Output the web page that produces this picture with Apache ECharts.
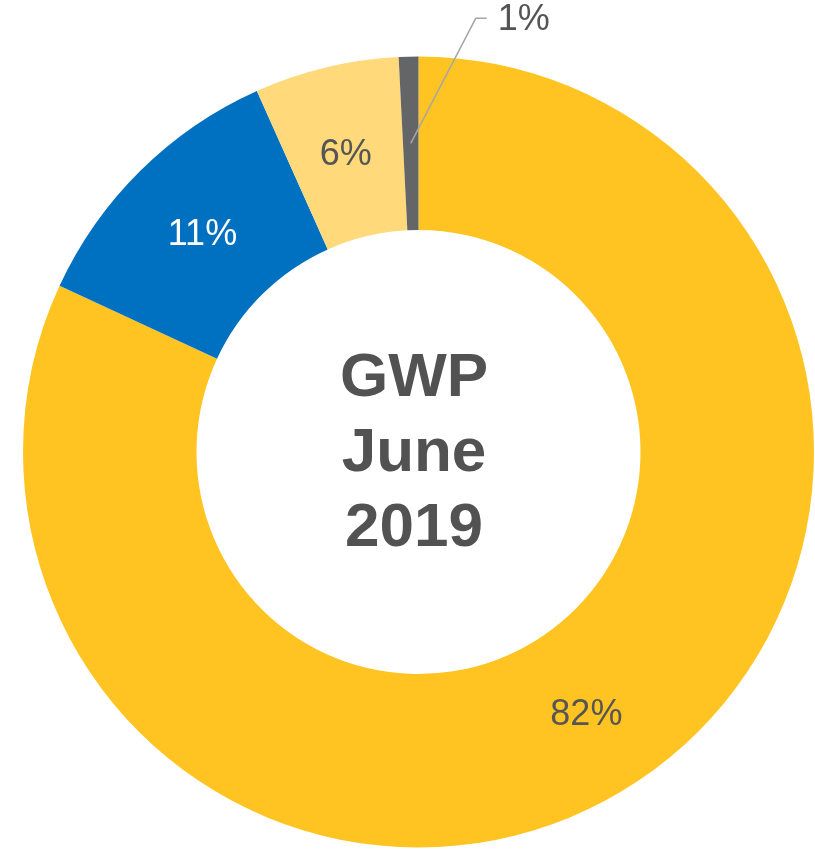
<!DOCTYPE html>
<html>
<head>
<meta charset="utf-8">
<script src="https://cdn.jsdelivr.net/npm/echarts@6/dist/echarts.min.js"></script>
<style>
  html, body { margin: 0; padding: 0; background: #fff; }
  #chart { width: 815px; height: 850px; }
</style>
</head>
<body>
<div id="chart"></div>
<script>
// slice shares, labels show rounded percent
const names = ['A', 'B', 'C', 'D'];
const values = [81.9, 11.4, 5.9, 0.8];
const colors = ['#FFC422', '#0070C0', '#FFD97A', '#646567'];
const centerText = 'GWP\nJune\n2019';

const CX = 418.5;
const CY = 452;
const R0 = 222;
const R1 = 395.5;
const MID_R = (R0 + R1) / 2;
const FONT = 'Arial, "Liberation Sans", sans-serif';

const chart = echarts.init(document.getElementById('chart'), null, { renderer: 'canvas' });

// leader line for the small slice starts in the middle of the ring
const total = values.reduce((a, b) => a + b, 0);
const before = values.slice(0, 3).reduce((a, b) => a + b, 0);
const midAngle = ((before + values[3] / 2) / total) * Math.PI * 2; // clockwise from 12 o'clock
const sx = CX + Math.sin(midAngle) * MID_R;
const sy = CY - Math.cos(midAngle) * MID_R;

const seriesData = values.map((v, i) => {
  const item = {
    name: names[i],
    value: v,
    itemStyle: { color: colors[i] }
  };
  if (i === 1) {
    item.label = { color: '#fff', offset: [3, 5] };
  }
  if (i === 2) {
    item.label = { offset: [0, 6] };
  }
  if (i === 3) {
    item.label = { position: 'outside' };
  }
  return item;
});

const option = {
  animation: false,
  graphic: [
    {
      type: 'text',
      x: 414,
      y: 454,
      silent: true,
      style: {
        text: centerText,
        font: 'bold 62px ' + FONT,
        lineHeight: 75,
        fill: '#525252',
        textAlign: 'center',
        textVerticalAlign: 'middle'
      }
    },
    {
      type: 'polyline',
      silent: true,
      z: 10,
      shape: { points: [[sx, sy], [sx + 65, sy - 125], [sx + 76, sy - 125]] },
      style: { stroke: '#A6A6A6', lineWidth: 1.5, fill: null }
    }
  ],
  series: [{
    type: 'pie',
    center: [CX, CY],
    radius: [R0, R1],
    startAngle: 90,
    clockwise: true,
    avoidLabelOverlap: false,
    label: {
      show: true,
      position: 'inside',
      formatter: (p) => Math.round(p.value) + '%',
      fontFamily: FONT,
      fontSize: 36,
      color: '#555555'
    },
    labelLine: { show: false },
    labelLayout: (params) => {
      if (params.dataIndex !== 3) return {};
      return {
        x: sx + 87,
        y: sy - 123,
        align: 'left',
        verticalAlign: 'middle'
      };
    },
    data: seriesData
  }]
};

chart.setOption(option);
</script>
</body>
</html>
